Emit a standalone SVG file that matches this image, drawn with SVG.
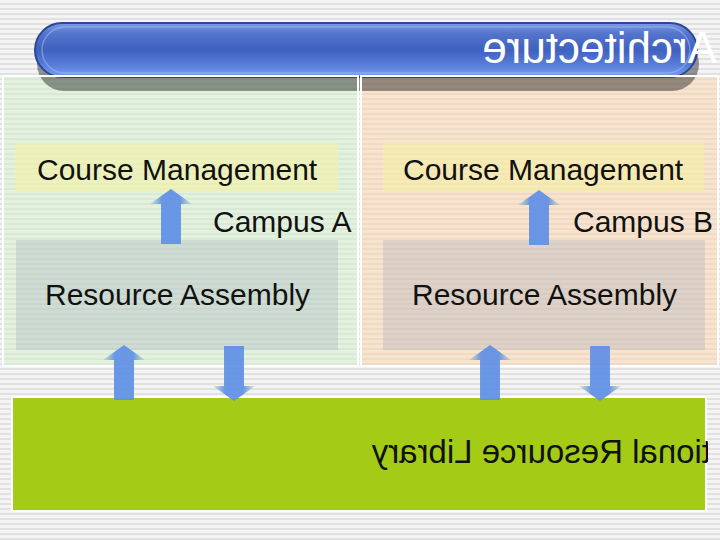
<svg xmlns="http://www.w3.org/2000/svg" width="720" height="540" viewBox="0 0 720 540">
<defs>
<pattern id="stripes" width="8" height="5" patternUnits="userSpaceOnUse">
<rect width="8" height="5" fill="#f4f4f4"/>
<rect y="3" width="8" height="2" fill="#e1e1e1"/>
</pattern>
<linearGradient id="barGrad" x1="0" y1="0" x2="0" y2="1">
<stop offset="0" stop-color="#7b9be6"/>
<stop offset="0.2" stop-color="#5474cc"/>
<stop offset="0.5" stop-color="#3f61bf"/>
<stop offset="0.8" stop-color="#5a80dc"/>
<stop offset="1" stop-color="#7aa0f2"/>
</linearGradient>
<linearGradient id="arrowGrad" x1="0" y1="0" x2="1" y2="0">
<stop offset="0" stop-color="#7fb0a8" stop-opacity="0.25"/>
<stop offset="0.28" stop-color="#5f8fe6" stop-opacity="0.92"/>
<stop offset="0.72" stop-color="#5f8fe6" stop-opacity="0.92"/>
<stop offset="1" stop-color="#7fb0a8" stop-opacity="0.25"/>
</linearGradient>
<path id="arrowUp" d="M0,0 L21,15 L10,15 L10,55 L-10,55 L-10,15 L-21,15 Z"/>
<clipPath id="greenClip"><rect x="13" y="398" width="695" height="112"/></clipPath>
<style>
.panel { stroke: none; }
.border { fill: none; stroke: #ffffff; stroke-width: 2; }
.lbl { font-family: "Liberation Sans", Arial, sans-serif; font-size: 30px; fill: #111111; }
.arrow { fill: url(#arrowGrad); }
</style>
</defs>

<rect width="720" height="540" fill="url(#stripes)"/>

<g id="panel-campus-a">
<rect class="panel" x="3" y="76" width="355" height="290" fill="#d6f0cc" fill-opacity="0.55"/>
</g>
<g id="panel-campus-b">
<rect class="panel" x="361" y="76" width="357" height="290" fill="#fcd6b0" fill-opacity="0.55"/>
</g>

<g id="title">
<rect x="37" y="37" width="662" height="54" rx="27" fill="#000000" fill-opacity="0.4"/>
<rect x="35" y="23" width="662" height="54" rx="27" fill="url(#barGrad)" stroke="#2b4796" stroke-width="2"/>
<rect x="42" y="27" width="648" height="46" rx="23" fill="none" stroke="#a8c0f4" stroke-opacity="0.5" stroke-width="1.5"/>
<text transform="translate(717,0) scale(-1,1)" x="0" y="63" font-family="'Liberation Sans', Arial, sans-serif" font-size="44" fill="#ffffff">Architecture</text>
</g>

<g id="panel-borders">
<rect class="border" x="3" y="76" width="355" height="290"/>
<rect class="border" x="361" y="76" width="357" height="290"/>
</g>

<g id="cm-a">
<rect x="15" y="143" width="323" height="49" fill="#f6f2a0" fill-opacity="0.55"/>
<text class="lbl" x="37" y="180">Course Management</text>
</g>
<g id="cm-b">
<rect x="383" y="143" width="321" height="49" fill="#f6f2a0" fill-opacity="0.55"/>
<text class="lbl" x="403" y="180">Course Management</text>
</g>

<g id="label-campus-a"><text class="lbl" x="213" y="232">Campus A</text></g>
<g id="label-campus-b"><text class="lbl" x="573" y="232">Campus B</text></g>

<g id="ra-a">
<rect x="16" y="240" width="322" height="110" fill="#a0a8b8" fill-opacity="0.3"/>
<text class="lbl" x="45" y="305">Resource Assembly</text>
</g>
<g id="ra-b">
<rect x="383" y="240" width="322" height="110" fill="#a0a8b8" fill-opacity="0.3"/>
<text class="lbl" x="412" y="305">Resource Assembly</text>
</g>

<g id="library">
<rect x="12" y="397" width="694" height="114" fill="#a4cc17" stroke="#ffffff" stroke-width="2"/>
<g clip-path="url(#greenClip)">
<text transform="translate(711,0) scale(-1,1)" x="0" y="463" font-family="'Liberation Sans', Arial, sans-serif" font-size="33" fill="#111111">tional Resource Library</text>
</g>
</g>

<g id="connectors">
<use href="#arrowUp" class="arrow" transform="translate(171,189)"/>
<use href="#arrowUp" class="arrow" transform="translate(539,190)"/>
<use href="#arrowUp" class="arrow" transform="translate(124,345)"/>
<use href="#arrowUp" class="arrow" transform="translate(490,345)"/>
<use href="#arrowUp" class="arrow" transform="translate(234,401) scale(1,-1)"/>
<use href="#arrowUp" class="arrow" transform="translate(600,401) scale(1,-1)"/>
</g>
</svg>
